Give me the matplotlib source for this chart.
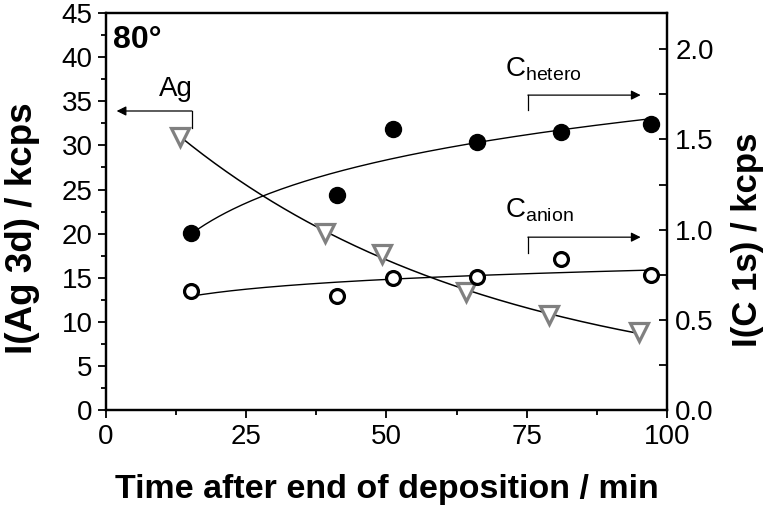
import numpy as np
import matplotlib
matplotlib.use('Agg')
import matplotlib.pyplot as plt
from matplotlib.ticker import MultipleLocator

plt.rcParams['font.family'] = ['Liberation Sans', 'DejaVu Sans']
plt.rcParams['mathtext.fontset'] = 'custom'
plt.rcParams['mathtext.rm'] = 'Liberation Sans'

# Ag 3d intensity (left axis)
t_ag = [13.2, 39.0, 49.2, 64.2, 79.0, 95.0]
i_ag = [31.0, 20.1, 17.7, 13.4, 10.8, 8.8]

# C 1s intensities (right axis)
t_c = [15.2, 41.2, 51.2, 66.1, 81.1, 97.1]
i_hetero = [0.98, 1.19, 1.56, 1.485, 1.54, 1.585]
i_anion = [0.66, 0.63, 0.73, 0.74, 0.84, 0.75]


def exp_fit(x, y):
    # y = y0 + A*exp(-x/tau), tau by grid search, A and y0 by least squares
    x = np.asarray(x)
    y = np.asarray(y)
    best = None
    for tau in np.linspace(10, 400, 800):
        M = np.column_stack([np.ones_like(x), np.exp(-x / tau)])
        coef, res, _, _ = np.linalg.lstsq(M, y, rcond=None)
        err = np.sum((M @ coef - y) ** 2)
        if best is None or err < best[0]:
            best = (err, tau, coef)
    _, tau, coef = best
    return lambda xx: coef[0] + coef[1] * np.exp(-xx / tau)


def log_fit(x, y):
    b, a = np.polyfit(np.log(x), y, 1)
    return lambda xx: a + b * np.log(xx)


fig = plt.figure(figsize=(7.68, 5.12), dpi=100)
ax = fig.add_axes([0.138, 0.199, 0.7305, 0.7755])
ax2 = ax.twinx()

# fits
f_ag = exp_fit(t_ag, i_ag)
xs = np.linspace(min(t_ag), max(t_ag), 200)
ax.plot(xs, f_ag(xs), color='black', lw=1.1, zorder=2)
ax.plot(t_ag, i_ag, 'v', ms=12.5, mfc='white', mec='#808080', mew=2.3,
        ls='none', zorder=3)

xc = np.linspace(min(t_c), max(t_c), 200)
f_het = log_fit(t_c, i_hetero)
f_an = log_fit(t_c, i_anion)
ax2.plot(xc, f_het(xc), color='black', lw=1.0, zorder=2)
ax2.plot(xc, f_an(xc), color='black', lw=1.0, zorder=2)
ax2.plot(t_c, i_hetero, 'o', ms=11.5, mfc='black', mec='black',
         ls='none', zorder=3)
ax2.plot(t_c, i_anion, 'o', ms=10, mfc='white', mec='black', mew=2.3,
         ls='none', zorder=3)

ax.set_xlim(0, 100)
ax.set_ylim(0, 45)
ax2.set_ylim(0, 2.2)

ax.xaxis.set_major_locator(MultipleLocator(25))
ax.xaxis.set_minor_locator(MultipleLocator(12.5))
ax.yaxis.set_major_locator(MultipleLocator(5))
ax.yaxis.set_minor_locator(MultipleLocator(2.5))
ax2.yaxis.set_major_locator(MultipleLocator(0.5))
ax2.yaxis.set_minor_locator(MultipleLocator(0.25))
ax2.yaxis.set_major_formatter(matplotlib.ticker.FormatStrFormatter('%.1f'))

ax.tick_params(axis='both', which='major', direction='out', length=6,
               width=1.3, labelsize=20)
ax.tick_params(axis='both', which='minor', direction='out', length=3.5,
               width=1.3)
ax.tick_params(axis='x', pad=4)
ax2.tick_params(axis='y', which='both', direction='in', length=6,
                width=1.3, labelsize=20, pad=6)

for a in (ax, ax2):
    for s in a.spines.values():
        s.set_linewidth(1.6)

ax.set_xlabel('Time after end of deposition / min', fontsize=24.5,
              fontweight='bold', labelpad=17)
ax.set_ylabel('I(Ag 3d) / kcps', fontsize=26.5, fontweight='bold')
ax2.set_ylabel('I(C 1s) / kcps', fontsize=25, fontweight='bold')
ax.yaxis.set_label_coords(-0.118, 0.458)
ax2.yaxis.set_label_coords(1.114, 0.43)

# annotations
ax.text(1.3, 42.0, '80°', fontsize=23, fontweight='bold', va='center')
ax.text(12.5, 34.9, 'Ag', fontsize=20, ha='center', va='bottom')
ax.annotate('', xy=(1.9, 33.9), xytext=(15.3, 33.9),
            arrowprops=dict(arrowstyle='-|>', color='black', lw=0.9,
                            mutation_scale=14, shrinkA=0, shrinkB=0))
ax.plot([15.3, 15.3], [32.0, 33.9], color='black', lw=0.9)

ax.text(71.2, 37.9, r'C$_{\rm hetero}$', fontsize=20, va='baseline')
ax.annotate('', xy=(95.3, 35.7), xytext=(75.2, 35.7),
            arrowprops=dict(arrowstyle='-|>', color='black', lw=0.9,
                            mutation_scale=14, shrinkA=0, shrinkB=0))
ax.plot([75.2, 75.2], [34.0, 35.7], color='black', lw=0.9)

ax.text(71.2, 21.9, r'C$_{\rm anion}$', fontsize=20, va='baseline')
ax.annotate('', xy=(95.3, 19.6), xytext=(75.2, 19.6),
            arrowprops=dict(arrowstyle='-|>', color='black', lw=0.9,
                            mutation_scale=14, shrinkA=0, shrinkB=0))
ax.plot([75.2, 75.2], [17.8, 19.6], color='black', lw=0.9)

fig.savefig('out.png', dpi=100)
